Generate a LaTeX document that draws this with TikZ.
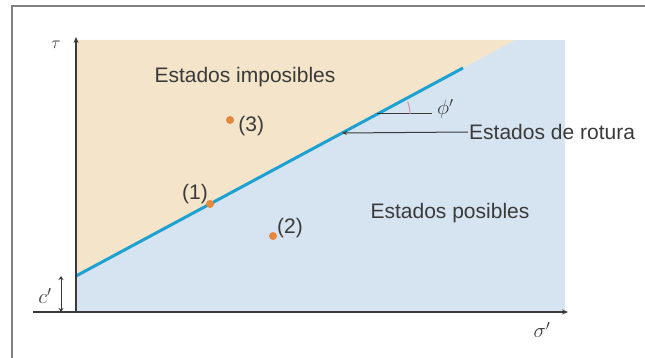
\documentclass[tikz,border=0pt]{standalone}
\usepackage{fontspec}
\setmainfont{Liberation Sans}
\usetikzlibrary{arrows.meta,positioning}
\definecolor{beige}{HTML}{F4E4C9}
\definecolor{azul}{HTML}{D6E4F2}
\definecolor{cian}{HTML}{1DA1D2}
\definecolor{naranja}{HTML}{E8863A}
\definecolor{gris}{HTML}{3A3A3A}
\tikzset{punto/.style={circle, fill=naranja, inner sep=0pt, minimum width=8pt}}
\tikzset{rotulo/.style={font=\fontsize{21}{25}\selectfont, text=gris, inner sep=1pt}}
\tikzset{simbolo/.style={font=\fontsize{20}{22}\selectfont, text=gris, inner sep=1pt}}
\tikzset{eje/.style={gris, line width=1.6pt, -{Stealth[length=6pt,width=5pt]}}}
\tikzset{indicador/.style={gris, line width=1pt, -{Stealth[length=5pt,width=4pt]}}}
\begin{document}
\begin{tikzpicture}[x=1pt,y=-1pt]
		\useasboundingbox (0,0) rectangle (645,358);
		\draw[gray, line width=2pt] (12,370) -- (12,6) -- (660,6);
		\fill[azul] (76,40) rectangle (565,312);
		\fill[beige] (76,40) -- (515,40) -- (76,276) -- cycle;
		\coordinate (c0) at (76,276);
		\coordinate (c1) at (463,68);
		\draw[cian, line width=3pt] (c0) -- (c1);
		\coordinate (x0) at (33,312);
		\coordinate (x1) at (568,312);
		\coordinate (y0) at (76,312);
		\coordinate (y1) at (76,37);
		\draw[eje] (x0) -- (x1);
		\draw[eje] (y0) -- (y1);
		\node[simbolo, font=\fontsize{16}{18}\selectfont] (tau) at (56,45) {$\tau$};
		\node[simbolo] (sigma) at (542,330) {$\sigma'$};
		\coordinate (k0) at (61,276);
		\coordinate (k1) at (61,312);
		\draw[gris, line width=1pt, {Stealth[length=4pt,width=5pt]}-{Stealth[length=4pt,width=5pt]}] (k0) -- (k1);
		\node[simbolo] (cp) at (45,296) {$c'$};
		\node[rotulo] (imposibles) at (245,77) {Estados imposibles};
		\node[rotulo] (posibles) at (450,213) {Estados posibles};
		\node[rotulo, anchor=west] (rotura) at (468,132) {Estados de rotura};
		\coordinate (r0) at (342,133);
		\draw[indicador] (rotura.west) -- (r0);
		\coordinate (f0) at (377,114);
		\coordinate (f1) at (432,114);
		\draw[gris, line width=1pt] (f0) -- (f1);
		\draw[red!40!gray!60, line width=1pt] (f0) ++(33pt,0pt) arc[start angle=0, end angle=22, radius=33pt];
		\node[simbolo, right=4pt of f1, yshift=5pt] (phi) {$\phi'$};
		\node[punto] (p1) at (210,204) {};
		\node[punto] (p2) at (273,236) {};
		\node[punto] (p3) at (230,120) {};
		\node[rotulo, above left=-4pt and -2pt of p1] (l1) {(1)};
		\node[rotulo, above right=-6pt and 0pt of p2] (l2) {(2)};
		\node[rotulo, right=3pt of p3, yshift=-6pt] (l3) {(3)};
\end{tikzpicture}
\end{document}
